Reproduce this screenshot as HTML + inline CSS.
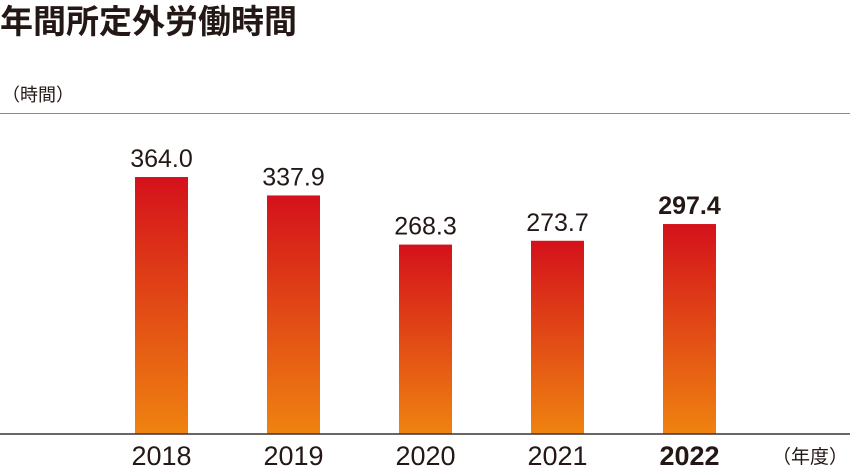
<!DOCTYPE html>
<html><head><meta charset="utf-8"><style>
body{margin:0;background:#fff;}
svg{display:block;font-family:"Liberation Sans","Noto Sans CJK JP",sans-serif;}
</style></head><body>
<svg width="850" height="468" viewBox="0 0 850 468">
<defs><linearGradient id="g" x1="0" y1="0" x2="0" y2="1"><stop offset="0" stop-color="#d4111b"/><stop offset="1" stop-color="#ef8310"/></linearGradient></defs>
<text x="0" y="33" font-size="33" font-weight="bold" fill="#231815">年間所定外労働時間</text>
<text x="2" y="101" font-size="18" fill="#231815">（時間）</text>
<line x1="0" y1="113.5" x2="850" y2="113.5" stroke="#888" stroke-width="1"/>
<g id="bars"></g>
<line x1="0" y1="434" x2="850" y2="434" stroke="#3a3230" stroke-width="1.5"/>
<text x="772" y="463" font-size="19" fill="#231815">（年度）</text>
</svg>
<script>
const categories=["2018","2019","2020","2021","2022"];
const values=[364.0,337.9,268.3,273.7,297.4];
const labels=["364.0","337.9","268.3","273.7","297.4"];
const base=434,pxPer=0.706,x0=135,step=132,bw=53;
function xs(i){return x0+i*step;}
function ys(v){return base-v*pxPer;}
const g=document.getElementById('bars');const ns="http://www.w3.org/2000/svg";
categories.forEach((c,i)=>{
 const r=document.createElementNS(ns,'rect');
 r.setAttribute('x',xs(i));r.setAttribute('y',ys(values[i]));r.setAttribute('width',bw);r.setAttribute('height',base-ys(values[i]));r.setAttribute('fill','url(#g)');
 
 
 g.appendChild(r);
 const t=document.createElementNS(ns,'text');
 t.setAttribute('x',xs(i)+bw/2);t.setAttribute('y',ys(values[i])-10);t.setAttribute('text-anchor','middle');t.setAttribute('font-size','25');t.setAttribute('fill','#231815');
 if(i===categories.length-1)t.setAttribute('font-weight','bold');
 t.textContent=labels[i];
 
 
 g.appendChild(t);
 const y=document.createElementNS(ns,'text');
 y.setAttribute('x',xs(i)+bw/2);y.setAttribute('y',465);y.setAttribute('text-anchor','middle');y.setAttribute('font-size','27');y.setAttribute('fill','#231815');
 if(i===categories.length-1)y.setAttribute('font-weight','bold');
 y.textContent=c;
 
 
 g.appendChild(y);
});
</script>
</body></html>
